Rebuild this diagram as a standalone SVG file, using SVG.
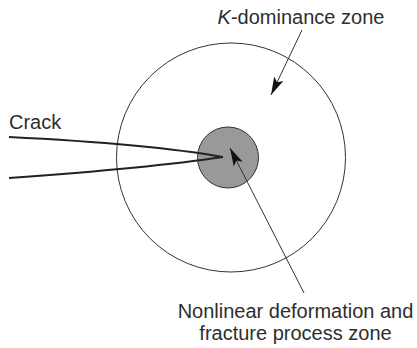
<svg xmlns="http://www.w3.org/2000/svg" width="417" height="348" viewBox="0 0 417 348">
<style>
.lbl{font-family:"Liberation Sans",Arial,sans-serif;font-size:20px;fill:#2e2e2e}
.thin{fill:none;stroke:#333;stroke-width:1}
.crack{fill:none;stroke:#222;stroke-width:2}
</style>
<defs>
<marker id="ah" markerUnits="userSpaceOnUse" markerWidth="20" markerHeight="12" viewBox="0 0 20 12" refX="18" refY="6" orient="auto">
<path d="M0,1 L18,6 L0,11 L4,6 z" fill="#111"/>
</marker>
</defs>
<rect width="417" height="348" fill="#fff"/>
<g id="k-zone">
<circle cx="231" cy="157.5" r="114.5" class="thin"/>
<text class="lbl" x="301" y="24" text-anchor="middle"><tspan font-style="italic">K</tspan>-dominance zone</text>
</g>
<g id="process-zone">
<circle cx="228" cy="157.5" r="30.5" fill="#999" stroke="#333" stroke-width="1"/>
<text class="lbl" x="295.5" y="318" text-anchor="middle">Nonlinear deformation and</text>
<text class="lbl" x="295.5" y="340" text-anchor="middle">fracture process zone</text>
</g>
<g id="crack">
<path class="crack" d="M9,137 Q150,144 223,157"/>
<path class="crack" d="M9,178 Q150,168 223,157"/>
<text class="lbl" x="9" y="129">Crack</text>
</g>
<g id="connectors">
<line class="thin" x1="302" y1="30" x2="271" y2="95" marker-end="url(#ah)"/>
<line class="thin" x1="304" y1="293" x2="230" y2="148" marker-end="url(#ah)"/>
</g>
</svg>
